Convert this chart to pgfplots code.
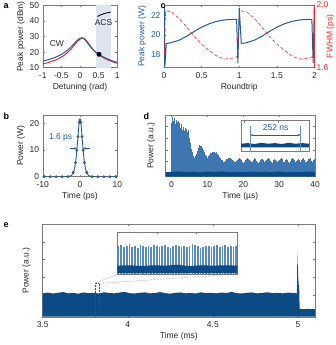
\documentclass[border=0pt]{standalone}
\usepackage{fontspec}
\setmainfont{Liberation Sans}
\usepackage{pgfplots}
\pgfplotsset{compat=1.18}
\usepackage{pgfplotstable}
\usetikzlibrary{arrows.meta}

\definecolor{cblue}{HTML}{1F5C99}
\definecolor{cred}{HTML}{E8262B}
\definecolor{dblue}{HTML}{0C4A86}
\definecolor{lblue}{HTML}{3D76B0}
\definecolor{shade}{HTML}{DCE5F0}
\definecolor{txt}{HTML}{262626}
\definecolor{boxc}{HTML}{7A7A7A}
\definecolor{mk}{HTML}{566575}

\pgfplotsset{
  panel/.style={
    scale only axis, anchor=south west,
    axis line style={boxc, line width=0.4pt},
    tick style={boxc, line width=0.4pt},
    tick align=inside, major tick length=2pt,
    ticklabel style={font=\fontsize{8.5}{10}\selectfont, text=txt},
    xticklabel style={yshift=-1pt},
    label style={font=\fontsize{8.5}{10}\selectfont, text=txt},
    /pgf/number format/assume math mode=true,
  },
  inset/.style={
    panel, axis background/.style={fill=white},
    xmin=0, xmax=1, ymin=0, ymax=1,
    xticklabels={}, yticklabels={}, ytick=\empty,
  },
}

% pulse peak heights, panel d (one pulse every 252 ns)
\pgfplotstableread[row sep=\\]{
p\\
4.3\\4.8\\4.5\\4.7\\4.2\\4.6\\4.4\\4.5\\4.0\\4.3\\
3.9\\4.2\\3.7\\4.0\\3.6\\3.9\\3.8\\3.5\\3.7\\3.4\\
3.0\\2.6\\2.1\\1.8\\1.5\\1.35\\1.5\\1.65\\1.9\\2.1\\
2.2\\2.4\\2.3\\2.35\\2.15\\2.0\\1.85\\1.6\\1.5\\1.35\\
1.3\\1.45\\1.55\\1.7\\1.75\\1.85\\1.8\\1.85\\1.75\\1.8\\
1.7\\1.65\\1.55\\1.4\\1.3\\1.15\\1.1\\1.0\\0.95\\1.05\\
1.1\\1.2\\1.25\\1.35\\1.3\\1.3\\1.2\\1.15\\1.05\\0.95\\
0.9\\0.95\\1.05\\1.1\\1.2\\1.3\\1.2\\1.1\\1.0\\0.9\\
0.95\\1.0\\1.1\\1.2\\1.3\\1.2\\1.15\\1.05\\0.95\\1.0\\
1.1\\1.2\\1.3\\1.2\\1.05\\1.0\\0.9\\1.0\\1.1\\1.2\\
1.25\\1.15\\1.0\\0.95\\1.05\\1.15\\1.25\\1.3\\1.2\\1.05\\
0.95\\0.9\\1.0\\1.1\\1.25\\1.15\\1.05\\0.95\\1.05\\1.15\\
1.25\\1.3\\1.2\\1.05\\0.95\\1.0\\1.15\\1.25\\1.1\\0.95\\
0.9\\1.05\\1.15\\1.25\\1.3\\1.2\\1.1\\0.95\\1.05\\1.15\\
1.25\\1.15\\1.0\\0.95\\1.1\\1.25\\1.3\\1.15\\1.0\\0.95\\
1.05\\1.2\\1.25\\1.3\\1.2\\1.05\\0.95\\1.1\\1.25\\1.2\\
}\pulsesd

% pulse heights, inset of panel e
\pgfplotstableread[row sep=\\]{
p\\
0.66\\0.70\\0.64\\0.68\\0.71\\0.65\\0.67\\0.63\\0.69\\0.66\\0.64\\
0.68\\0.65\\0.70\\0.67\\0.64\\0.66\\0.69\\0.65\\0.63\\0.67\\0.70\\
0.66\\0.64\\0.68\\0.65\\0.67\\0.72\\0.69\\0.66\\0.63\\0.65\\0.68\\
0.66\\0.64\\0.67\\0.69\\0.65\\0.66\\0.70\\0.64\\0.67\\0.65\\0.68\\
}\pulsese

\begin{document}
\begin{tikzpicture}[font=\fontsize{8.5}{10}\selectfont]
\useasboundingbox (0,0) rectangle (335pt,345pt);

% ---------------- a
\begin{axis}[panel, at={(42.7pt,277.3pt)}, width=74.6pt, height=62.4pt,
  xmin=-1, xmax=1, ymin=10, ymax=50,
  xtick={-1,-0.5,0,0.5,1}, ytick={10,20,30,40,50},
  xlabel={Detuning (rad)}, ylabel={Peak power (dBm)},
  xlabel style={yshift=2pt}, ylabel style={yshift=-2pt}]
\addplot[fill=shade, draw=none] coordinates {(0.43,10)(0.43,50)(0.82,50)(0.82,10)};
\addplot[cred, line width=1pt, smooth] coordinates {
 (-1,12.4)(-0.9,13)(-0.8,13.7)(-0.7,14.5)(-0.6,15.5)(-0.5,16.8)(-0.4,18.4)
 (-0.3,20.4)(-0.2,23)(-0.1,26)(0,28.3)(0.07,29)(0.12,28.6)(0.17,27.5)(0.22,25.9)
 (0.3,23.2)(0.4,20.4)(0.5,18.4)(0.6,16.8)(0.7,15.5)(0.8,14.5)(0.9,13.6)(1,12.8)};
\addplot[cblue, line width=1pt, smooth] coordinates {
 (-1,14.2)(-0.9,14.8)(-0.8,15.5)(-0.7,16.3)(-0.6,17.3)(-0.5,18.5)(-0.4,20)
 (-0.3,21.9)(-0.2,24.3)(-0.1,27)(0,28.9)(0.05,29.2)(0.1,28.7)(0.15,27.5)(0.2,25.9)
 (0.3,22.8)(0.4,20.4)(0.5,18.7)(0.6,17.2)(0.7,16)(0.8,15)(0.9,14.1)(1,13.4)};
\addplot[black, line width=0.9pt, smooth] coordinates {
 (0.47,42.8)(0.55,43.8)(0.65,44.7)(0.75,45.3)(0.82,45.6)};
\addplot[only marks, mark=*, mark size=2.2pt, black] coordinates {(0.51,18.6)};
\node[text=txt] at (axis cs:-0.62,25.6) {CW};
\node[text=txt] at (axis cs:0.63,38.8) {ACS};
\end{axis}

% ---------------- c (left: peak power)
\begin{axis}[panel, at={(164pt,277.3pt)}, width=150.5pt, height=62.7pt,
  axis y line*=left,
  xmin=0, xmax=2, ymin=16.6, ymax=23.1,
  xtick={0,0.5,1,1.5,2}, ytick={18,20,22},
  y axis line style={cblue}, ytick style={cblue},
  yticklabel style={text=cblue}, ylabel style={text=cblue, yshift=-2pt},
  xlabel style={yshift=2pt},
  xlabel={Roundtrip}, ylabel={Peak power (W)}]
\addplot[cblue, line width=1pt] coordinates {
 (0.004,22.7)(0.012,16.8)(0.03,19.1)(0.1,19.2)(0.2,19.45)(0.3,19.85)(0.4,20.35)
 (0.5,20.8)(0.6,21.15)(0.7,21.4)(0.8,21.55)(0.9,21.6)(0.965,21.6)(0.982,17.1)
 (1.0,22.8)(1.027,19.1)(1.1,19.2)(1.2,19.45)(1.3,19.85)(1.4,20.35)(1.5,20.8)
 (1.6,21.15)(1.7,21.4)(1.8,21.55)(1.9,21.6)(1.965,21.6)(1.982,17.1)(1.997,22.8)};
\end{axis}
% ---------------- c (right: FWHM)
\begin{axis}[panel, at={(164pt,277.3pt)}, width=150.5pt, height=62.7pt,
  axis y line*=right, axis x line=none,
  xmin=0, xmax=2, ymin=1.6, ymax=2.0,
  ytick={1.6,2.0},
  yticklabel style={text=cred, xshift=-1.5pt, /pgf/number format/.cd, fixed, fixed zerofill, precision=1},
  y axis line style={cred}, ytick style={cred},
  ylabel style={text=cred, at={(axis description cs:1.105,0.5)}, anchor=center},
  ylabel={FWHM (ps)}]
\addplot[cred, line width=0.6pt, dash pattern=on 3.5pt off 2pt] coordinates {
 (0.006,1.69)(0.02,1.965)(0.1,1.955)(0.2,1.915)(0.3,1.86)(0.4,1.80)(0.5,1.75)
 (0.6,1.71)(0.7,1.675)(0.8,1.655)(0.9,1.66)(0.97,1.67)(0.99,1.78)(1.005,1.965)
 (1.1,1.955)(1.2,1.915)(1.3,1.86)(1.4,1.80)(1.5,1.75)(1.6,1.71)(1.7,1.675)
 (1.8,1.655)(1.9,1.66)(1.97,1.67)(1.995,1.66)};
\end{axis}

% ---------------- b
\begin{axis}[panel, at={(42.7pt,168.3pt)}, width=74.6pt, height=61.7pt,
  xmin=-10, xmax=10, ymin=0, ymax=23.1, clip=false,
  xtick={-10,0,10}, ytick={0,10,20},
  xlabel={Time (ps)}, ylabel={Power (W)},
  xlabel style={yshift=2pt}, ylabel style={yshift=-2pt}]
\addplot[cblue, line width=0.9pt, smooth] coordinates {
 (-10,0)(-4,0)(-3,0.05)(-2.6,0.27)(-2.2,0.66)(-2,1.0)(-1.8,1.6)(-1.6,2.4)(-1.4,3.6)
 (-1.2,5.3)(-1,7.6)(-0.8,10.7)(-0.6,14.1)(-0.4,17.7)(-0.2,20.3)(0,21.3)
 (0.2,20.3)(0.4,17.7)(0.6,14.1)(0.8,10.7)(1,7.6)(1.2,5.3)(1.4,3.6)(1.6,2.4)
 (1.8,1.6)(2,1.0)(2.2,0.66)(2.6,0.27)(3,0.05)(4,0)(10,0)};
\addplot[only marks, mark=*, mark size=1.3pt, mark options={fill=mk, draw=mk!70!black, line width=0.3pt}]
 coordinates {(-9.6,0)(-8,0)(-6.4,0)(-4.8,0)(-3.2,0.03)(-1.8,1.6)(-1.2,5.3)(-0.85,9.9)
 (-0.55,15.0)(-0.2,20.3)(0,21.3)(0.2,20.3)(0.55,15.0)(0.85,9.9)(1.2,5.3)(1.8,1.6)
 (3.2,0.03)(4.8,0)(6.4,0)(8,0)(9.6,0)};
\addplot[cblue, line width=0.6pt, -{Stealth[length=2.5pt,width=2.5pt]}] coordinates {(-2.6,10.6)(-0.85,10.6)};
\addplot[cblue, line width=0.6pt, -{Stealth[length=2.5pt,width=2.5pt]}] coordinates {(2.6,10.6)(0.85,10.6)};
\node[text=cblue] at (axis cs:-5.2,14.6) {1.6 ps};
\end{axis}

% ---------------- d
\begin{axis}[panel, at={(165.5pt,168.3pt)}, width=149.5pt, height=61.7pt,
  xmin=-1.7, xmax=40, ymin=-0.29, ymax=5,
  xtick={0,10,20,30,40}, ytick={1,2,3,4}, yticklabels={},
  xlabel={Time (µs)}, ylabel={Power (a.u.)},
  xlabel style={yshift=2pt}, ylabel style={yshift=0pt}]
\addplot[ycomb, lblue, line width=0.55pt, mark=none] table[x expr=\coordindex*0.252, y=p] {\pulsesd};
\addplot[fill=dblue, draw=none] coordinates {
 (-1.7,-0.29)(-1.7,0.1)(0,0.12)(2,0.16)(4,0.1)(6,0.14)(8,0.09)(10,0.15)(12,0.11)
 (14,0.16)(16,0.1)(18,0.13)(20,0.09)(22,0.15)(24,0.11)(26,0.14)(28,0.1)(30,0.16)
 (32,0.1)(34,0.13)(36,0.09)(38,0.15)(40,0.12)(40,-0.29)};
\end{axis}
% inset of d
\begin{axis}[inset, at={(241pt,194pt)}, width=68pt, height=30.3pt,
  xtick={0.05,0.55}, xtick pos=upper]
\addplot[fill=dblue, draw=none] coordinates {
 (0,0.12)(0,0.24)(0.1,0.26)(0.2,0.23)(0.3,0.27)(0.4,0.24)(0.5,0.26)(0.6,0.23)
 (0.7,0.27)(0.8,0.24)(0.9,0.26)(1,0.24)(1,0.12)};
\addplot[ycomb, lblue!80, line width=0.8pt, mark=none] coordinates {(0.14,0.82)(0.87,0.82)};
\addplot[cblue, line width=0.5pt, {Stealth[length=2.2pt,width=2.2pt]}-{Stealth[length=2.2pt,width=2.2pt]}]
 coordinates {(0.14,0.53)(0.87,0.53)};
\node[text=cblue] at (axis cs:0.51,0.76) {252 ns};
\end{axis}

% ---------------- e
\begin{axis}[panel, at={(42.7pt,28.3pt)}, width=272.3pt, height=92.4pt,
  xmin=3.5, xmax=5.1, ymin=-0.22, ymax=5,
  xtick={3.5,4,4.5,5}, ytick={1,2,3,4}, yticklabels={},
  xlabel={Time (ms)}, ylabel={Power (a.u.)},
  xlabel style={yshift=2pt}, ylabel style={yshift=2pt}]
\addplot[fill=dblue, draw=none] coordinates {
 (3.5,-0.22)(3.5,1.10)(3.53,1.14)(3.56,1.09)(3.59,1.13)(3.62,1.17)(3.65,1.10)
 (3.68,1.12)(3.71,1.08)(3.74,1.15)(3.77,1.11)(3.80,1.13)(3.83,1.09)(3.86,1.16)
 (3.89,1.12)(3.92,1.10)(3.95,1.14)(3.98,1.18)(4.01,1.11)(4.04,1.09)(4.07,1.13)
 (4.10,1.15)(4.13,1.10)(4.16,1.12)(4.19,1.17)(4.22,1.11)(4.25,1.08)(4.28,1.13)
 (4.31,1.15)(4.34,1.10)(4.37,1.12)(4.40,1.09)(4.43,1.16)(4.46,1.11)(4.49,1.13)
 (4.52,1.10)(4.55,1.14)(4.58,1.12)(4.61,1.18)(4.64,1.11)(4.67,1.09)(4.70,1.13)
 (4.73,1.15)(4.76,1.10)(4.79,1.12)(4.82,1.16)(4.85,1.11)(4.88,1.13)(4.91,1.10)
 (4.94,1.14)(4.97,1.12)(4.994,1.10)(4.9965,3.45)(4.999,2.6)(5.002,1.9)(5.005,1.5)
 (5.008,1.2)(5.0095,0.22)(5.03,0.2)(5.06,0.22)(5.1,0.2)(5.1,-0.22)};
\addplot[black!70, densely dotted, line width=0.5pt] coordinates {
 (3.807,-0.22)(3.807,1.66)(3.83,1.66)(3.83,-0.22)};
\addplot[black!50, densely dotted, line width=0.5pt] coordinates {(3.807,1.66)(3.938,2.19)};
\addplot[black!50, densely dotted, line width=0.5pt] coordinates {(3.83,1.66)(4.642,2.19)};
\end{axis}
% inset of e
\begin{axis}[inset, at={(117.3pt,71pt)}, width=120pt, height=41.7pt,
  xtick={0.33,0.66}, xtick pos=upper]
\addplot[ycomb, lblue!85, line width=1.7pt, mark=none] table[x expr=\coordindex*0.0228+0.01, y=p] {\pulsese};
\addplot[fill=dblue, draw=none] coordinates {
 (0,0.02)(0,0.2)(0.1,0.21)(0.2,0.19)(0.3,0.21)(0.4,0.2)(0.5,0.22)(0.6,0.19)
 (0.7,0.21)(0.8,0.2)(0.9,0.21)(1,0.2)(1,0.02)};
\end{axis}

% panel letters
\node[font=\bfseries\fontsize{9}{9}\selectfont, anchor=north west] at (0pt,345pt) {a};
\node[font=\bfseries\fontsize{9}{9}\selectfont, anchor=north west] at (157pt,345pt) {c};
\node[font=\bfseries\fontsize{9}{9}\selectfont, anchor=north west] at (0pt,236pt) {b};
\node[font=\bfseries\fontsize{9}{9}\selectfont, anchor=north west] at (140pt,236pt) {d};
\node[font=\bfseries\fontsize{9}{9}\selectfont, anchor=north west] at (0pt,126pt) {e};
\end{tikzpicture}
\end{document}
